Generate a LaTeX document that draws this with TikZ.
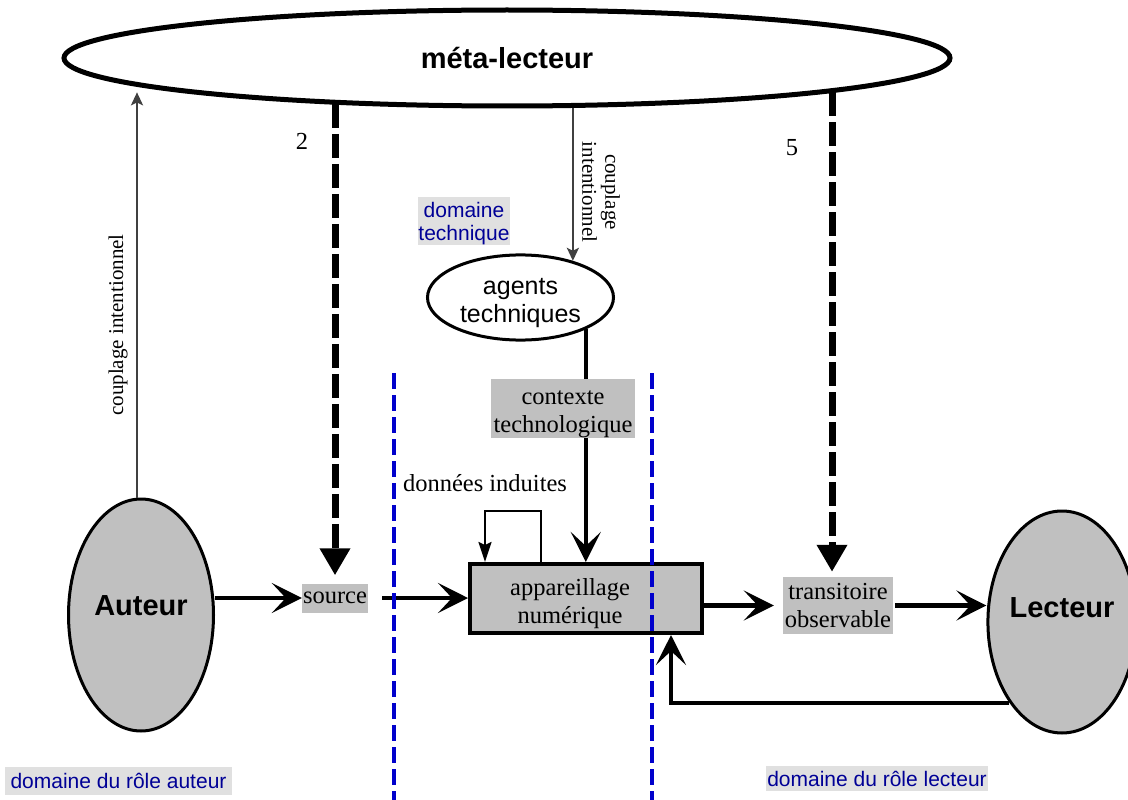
\documentclass[tikz,border=0pt]{standalone}
\usepackage{fontspec}
\setmainfont{Liberation Serif}
\setsansfont{Liberation Sans}
\usetikzlibrary{shapes.geometric,arrows.meta,calc}
\definecolor{boxgray}{RGB}{192,192,192}
\definecolor{labelbg}{RGB}{224,224,224}
\definecolor{navytext}{RGB}{0,0,150}
\definecolor{dashblue}{RGB}{0,0,204}
\definecolor{arrowgray}{RGB}{64,64,64}
\newcommand{\topstrut}[1]{\rule{0pt}{#1}}
\begin{document}
\begin{tikzpicture}[x=1pt,y=-1pt,
  serifbig/.style={font=\fontsize{24.5}{28}\selectfont\rmfamily},
  serifsmall/.style={font=\fontsize{21}{23}\selectfont\rmfamily},
  person/.style={ellipse, draw, line width=3pt, fill=boxgray, inner sep=0pt,
    font=\fontsize{29}{33}\selectfont\sffamily\bfseries},
  graybox/.style={fill=boxgray, inner sep=0pt, align=center, serifbig},
  domainlabel/.style={fill=labelbg, text=navytext, inner sep=0pt, align=center,
    font=\fontsize{21}{23}\selectfont\sffamily},
  bigarrow/.style={line width=4.5pt, -{Stealth[length=30pt,width=30pt,inset=14pt]}},
  grayarrow/.style={draw=arrowgray, line width=2.5pt, -{Stealth[length=13pt,width=12pt,inset=3pt]}},
  dasharrow/.style={line width=7pt, dash pattern=on 24pt off 6pt, -{Triangle[length=27pt,width=29pt]}},
  loopline/.style={line width=2pt, -{Stealth[length=20pt,width=13pt,inset=3pt]}},
  bluedash/.style={draw=dashblue, line width=3.5pt, dash pattern=on 16pt off 6pt}]
\useasboundingbox (0,0) rectangle (1128,800);
\fill[white] (0,0) rectangle (1128,800);

% main nodes
\node[ellipse, draw, line width=5pt, minimum width=886pt, minimum height=96pt, inner sep=0pt,
  font=\fontsize{29}{33}\selectfont\sffamily\bfseries] (meta) at (507,58) {méta-lecteur};
\node[ellipse, draw, line width=3pt, minimum width=186pt, minimum height=76pt, inner sep=0pt,
  align=center, font=\fontsize{25}{28}\selectfont\sffamily] (agents) at (520.5,297.5) {\topstrut{27pt}agents\\techniques};
\node[draw, line width=4pt, fill=boxgray, minimum width=232pt, minimum height=69pt, inner sep=0pt,
  align=center, serifbig] (app) at (586,598.5) {\topstrut{27pt}appareillage\hspace*{32pt}\\numérique\hspace*{32pt}};
\node[graybox, minimum width=66pt, minimum height=29pt] (source) at (335,598) {source};
\node[graybox, minimum width=110pt, minimum height=57pt] (trans) at (838,605.5) {transitoire\\observable};
\node[person, minimum width=145pt, minimum height=232pt, text height=1pt, text depth=0pt] (Auteur) at (141,615) {Auteur};
\node[person, minimum width=148pt, minimum height=222pt, text height=0pt, text depth=9pt] (Lecteur) at (1062,622) {Lecteur};

% connectors
\draw[grayarrow] ([xshift=-4pt]Auteur.north) -- ([xshift=-4pt]Auteur.north |- meta.186);
\draw[grayarrow] (agents.35 |- meta.south) -- (agents.35);
\draw[dasharrow, shorten >=8pt] (source.north |- meta.194) -- (source.north);
\draw[dasharrow, shorten >=5pt] ([xshift=-6pt]trans.north |- meta.-6) -- ([xshift=-6pt]trans.north);
\draw[bigarrow] (agents.-26) -- (agents.-26 |- app.north);
\draw[bigarrow] (Auteur.east |- source) -- (source.west);
\draw[bigarrow] ([xshift=14pt]source.east) -- (app.west |- source.east);
\draw[bigarrow, shorten >=9pt] (app.east |- trans) -- (trans.west);
\draw[bigarrow] ([xshift=2pt]trans.east) -- (trans.east -| Lecteur.west);
\draw[bigarrow] (Lecteur.237) -| ([xshift=85pt]app.south);
\draw[loopline] ([xshift=-45pt]app.north) -- ++(0,-51) -| ([xshift=-101pt]app.north);

% box drawn over the vertical connector
\node[graybox, minimum width=144pt, minimum height=59pt] (ctx) at (563,408.5) {\topstrut{25pt}contexte\\technologique};

% labels
\node[serifsmall, rotate=90] (lblL) at (118,325) {couplage intentionnel};
\node[serifsmall, rotate=-90, align=center] (lblR) at (601,192) {couplage\\intentionnel};
\node[serifbig] (two) at (302,141) {2};
\node[serifbig] (five) at (792,148) {5};
\node[serifbig] (induites) at (485,483) {données induites};
\node[domainlabel, minimum width=92pt, minimum height=48pt] (domtech) at (464,221) {\topstrut{20pt}domaine\\technique};
\node[domainlabel, minimum width=227pt, minimum height=28pt] (domaut) at (118.5,781) {domaine du rôle auteur};
\node[domainlabel, minimum width=222pt, minimum height=25pt] (domlec) at (877,778.5) {domaine du rôle lecteur};

% domain separators
\draw[bluedash] (394,373) -- (394,800);
\draw[bluedash] (652,373) -- (652,800);
\end{tikzpicture}
\end{document}
